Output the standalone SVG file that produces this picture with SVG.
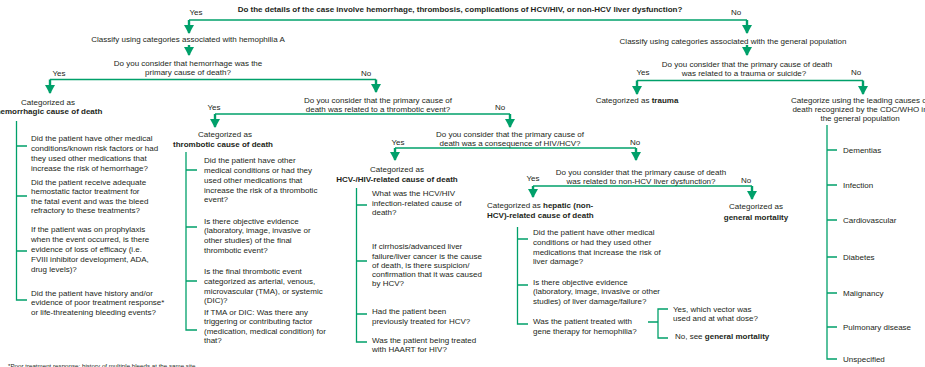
<svg xmlns="http://www.w3.org/2000/svg" width="925" height="367" viewBox="0 0 925 367">
<style>
text{font-family:"Liberation Sans",Arial,sans-serif;font-size:8px;fill:#231f20}
.b{font-weight:bold}
.m{text-anchor:middle}
.fn{font-size:6.2px}
.ln{fill:none;stroke:#00a06a;stroke-width:1.6}
.br{fill:none;stroke:#00a06a;stroke-width:1.3}
.ar{fill:none;stroke:#00a06a;stroke-width:2.4;marker-end:url(#ah)}
</style>
<defs>
<marker id="ah" viewBox="0 0 9 10" refX="8" refY="5" markerWidth="9" markerHeight="10.5" markerUnits="userSpaceOnUse" orient="auto">
<path d="M0,0 L9,5 L0,10 z" fill="#00a06a"/>
</marker>
</defs>
<rect width="925" height="367" fill="#fff"/>

<g id="connectors">
<path class="ln" d="M189,20 H747"/>
<path class="ar" d="M189,20 V33"/>
<path class="ar" d="M747,20 V33"/>
<path class="ar" d="M189,45 V55"/>
<path class="ar" d="M747,45 V55"/>
<path class="ln" d="M50,79.5 H376"/>
<path class="ar" d="M50,79.5 V93"/>
<path class="ar" d="M376,79.5 V92"/>
<path class="ln" d="M215,114 H510"/>
<path class="ar" d="M215,114 V127"/>
<path class="ar" d="M510,114 V127"/>
<path class="ln" d="M395,148 H636"/>
<path class="ar" d="M395,148 V160"/>
<path class="ar" d="M636,148 V160"/>
<path class="ln" d="M533,186 H752"/>
<path class="ar" d="M533,186 V197"/>
<path class="ar" d="M752,186 V199"/>
<path class="ln" d="M637,80.5 H863"/>
<path class="ar" d="M637,80.5 V94"/>
<path class="ar" d="M863,80.5 V94"/>
</g>

<g id="labels">
<text class="m" x="196" y="15">Yes</text>
<text class="m" x="736" y="15">No</text>
<text class="m" x="59" y="76">Yes</text>
<text class="m" x="366" y="76">No</text>
<text class="m" x="214" y="110">Yes</text>
<text class="m" x="500" y="110">No</text>
<text class="m" x="398" y="145">Yes</text>
<text class="m" x="635" y="145">No</text>
<text class="m" x="533" y="181">Yes</text>
<text class="m" x="746" y="183">No</text>
<text class="m" x="643" y="75">Yes</text>
<text class="m" x="856" y="75">No</text>
</g>

<g id="q-main">
<text class="m b" x="460" y="12">Do the details of the case involve hemorrhage, thrombosis, complications of HCV/HIV, or non-HCV liver dysfunction?</text>
</g>

<g id="classify-hemophilia">
<text class="m" x="188" y="42">Classify using categories associated with hemophilia A</text>
</g>

<g id="q-hemorrhage">
<text class="m" x="188" y="66">Do you consider that hemorrhage was the</text>
<text class="m" x="188" y="75">primary cause of death?</text>
</g>

<g id="hemorrhagic">
<text class="m" x="48" y="105">Categorized as</text>
<text class="m b" x="49" y="114">hemorrhagic cause of death</text>
<path class="br" d="M16.5,121 V300 H27 M16.5,146 H27 M16.5,196 H27 M16.5,251 H27"/>
<text x="31" y="141">Did the patient have other medical</text>
<text x="31" y="151">conditions/known risk factors or had</text>
<text x="31" y="160.5">they used other medications that</text>
<text x="31" y="170.5">increase the risk of hemorrhage?</text>
<text x="31" y="184.5">Did the patient receive adequate</text>
<text x="31" y="194">hemostatic factor treatment for</text>
<text x="31" y="203.5">the fatal event and was the bleed</text>
<text x="31" y="213">refractory to these treatments?</text>
<text x="31" y="232">If the patient was on prophylaxis</text>
<text x="31" y="242">when the event occurred, is there</text>
<text x="31" y="251.5">evidence of loss of efficacy (i.e.</text>
<text x="31" y="261.5">FVIII inhibitor development, ADA,</text>
<text x="31" y="271.5">drug levels)?</text>
<text x="31" y="295.5">Did the patient have history and/or</text>
<text x="31" y="305">evidence of poor treatment response*</text>
<text x="31" y="315">or life-threatening bleeding events?</text>
</g>

<g id="q-thrombotic">
<text class="m" x="378" y="103">Do you consider that the primary cause of</text>
<text class="m" x="378" y="112">death was related to a thrombotic event?</text>
</g>

<g id="thrombotic">
<text class="m" x="225" y="137">Categorized as</text>
<text class="m b" x="223" y="147">thrombotic cause of death</text>
<path class="br" d="M186,152 V330 H197 M186,170 H197 M186,227 H197 M186,281 H197"/>
<text x="204" y="163">Did the patient have other</text>
<text x="204" y="173">medical conditions or had they</text>
<text x="204" y="182.5">used other medications that</text>
<text x="204" y="192.5">increase the risk of a thrombotic</text>
<text x="204" y="202">event?</text>
<text x="204" y="223.5">Is there objective evidence</text>
<text x="204" y="233.2">(laboratory, image, invasive or</text>
<text x="204" y="242.9">other studies) of the final</text>
<text x="204" y="252.6">thrombotic event?</text>
<text x="204" y="274">Is the final thrombotic event</text>
<text x="204" y="284">categorized as arterial, venous,</text>
<text x="204" y="293.5">microvascular (TMA), or systemic</text>
<text x="204" y="303">(DIC)?</text>
<text x="204" y="315">If TMA or DIC: Was there any</text>
<text x="204" y="324">triggering or contributing factor</text>
<text x="204" y="333.5">(medication, medical condition) for</text>
<text x="204" y="343">that?</text>
</g>

<g id="q-hiv">
<text class="m" x="510" y="137">Do you consider that the primary cause of</text>
<text class="m" x="510" y="146">death was a consequence of HIV/HCV?</text>
</g>

<g id="hcv-hiv">
<text class="m" x="397" y="172">Categorized as</text>
<text class="m b" x="397" y="182">HCV-/HIV-related cause of death</text>
<path class="br" d="M356.5,188 V342 H367 M356.5,205 H367 M356.5,261 H367 M356.5,314 H367"/>
<text x="372" y="196">What was the HCV/HIV</text>
<text x="372" y="205.5">infection-related cause of</text>
<text x="372" y="215">death?</text>
<text x="372" y="249">If cirrhosis/advanced liver</text>
<text x="372" y="258.5">failure/liver cancer is the cause</text>
<text x="372" y="268">of death, is there suspicion/</text>
<text x="372" y="277">confirmation that it was caused</text>
<text x="372" y="286">by HCV?</text>
<text x="372" y="314">Had the patient been</text>
<text x="372" y="323.5">previously treated for HCV?</text>
<text x="372" y="343">Was the patient being treated</text>
<text x="372" y="352">with HAART for HIV?</text>
</g>

<g id="q-liver">
<text class="m" x="641" y="175">Do you consider that the primary cause of death</text>
<text class="m" x="641" y="184">was related to non-HCV liver dysfunction?</text>
</g>

<g id="hepatic">
<text x="487" y="208">Categorized as <tspan class="b">hepatic (non-</tspan></text>
<text class="b" x="487" y="218">HCV)-related cause of death</text>
<path class="br" d="M517.5,227 V324 H528 M517.5,239 H528 M517.5,285 H528"/>
<text x="533" y="235.3">Did the patient have other medical</text>
<text x="533" y="245">conditions or had they used other</text>
<text x="533" y="255">medications that increase the risk of</text>
<text x="533" y="264.3">liver damage?</text>
<text x="533" y="285">Is there objective evidence</text>
<text x="533" y="294.3">(laboratory, image, invasive or other</text>
<text x="533" y="304">studies) of liver damage/failure?</text>
<text x="533" y="324.3">Was the patient treated with</text>
<text x="533" y="334">gene therapy for hemophilia?</text>
<path class="br" d="M648,322 H658 M668,309 H658 V338 H668"/>
<text x="673" y="311.5">Yes, which vector was</text>
<text x="673" y="321">used and at what dose?</text>
<text x="675" y="339">No, see <tspan class="b">general mortality</tspan></text>
</g>

<g id="general-mortality">
<text class="m" x="756" y="209">Categorized as</text>
<text class="m b" x="756" y="220">general mortality</text>
</g>

<g id="classify-general">
<text class="m" x="733" y="44">Classify using categories associated with the general population</text>
</g>

<g id="q-trauma">
<text class="m" x="747" y="67">Do you consider that the primary cause of death</text>
<text class="m" x="744" y="76">was related to a trauma or suicide?</text>
</g>

<g id="trauma">
<text class="m" x="637" y="103">Categorized as <tspan class="b">trauma</tspan></text>
</g>

<g id="cdc-who">
<text class="m" x="860" y="103">Categorize using the leading causes of</text>
<text class="m" x="860" y="112">death recognized by the CDC/WHO in</text>
<text class="m" x="860" y="121">the general population</text>
<path class="br" d="M827,125 V359 H837 M827,150 H837 M827,185 H837 M827,220 H837 M827,257 H837 M827,293 H837 M827,327 H837"/>
<text x="843" y="153">Dementias</text>
<text x="843" y="188">Infection</text>
<text x="843" y="223">Cardiovascular</text>
<text x="843" y="260">Diabetes</text>
<text x="843" y="296">Malignancy</text>
<text x="843" y="330">Pulmonary disease</text>
<text x="843" y="362">Unspecified</text>
</g>

<g id="footnote">
<text class="fn" x="8" y="368">*Poor treatment response: history of multiple bleeds at the same site</text>
</g>
</svg>
